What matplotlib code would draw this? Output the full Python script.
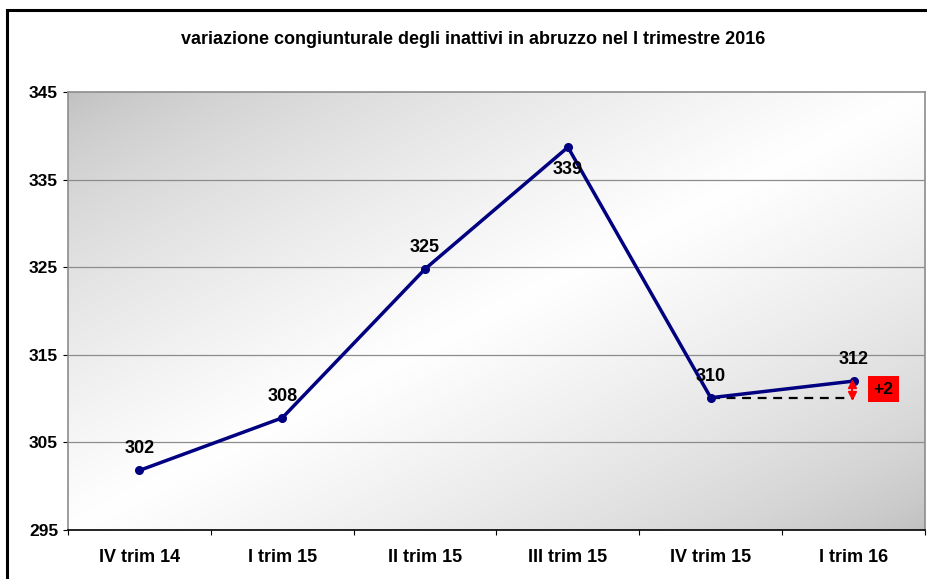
import matplotlib
matplotlib.use("Agg")
import matplotlib.pyplot as plt
import numpy as np
from matplotlib.patches import Rectangle

plt.rcParams['font.family'] = ['Liberation Sans', 'DejaVu Sans']

categories = ["IV trim 14", "I trim 15", "II trim 15", "III trim 15", "IV trim 15", "I trim 16"]
values = [301.8, 307.8, 324.8, 338.7, 310.1, 312.0]
labels = ["302", "308", "325", "339", "310", "312"]
yticks = [295, 305, 315, 325, 335, 345]
delta_label = "+2"

fig = plt.figure(figsize=(9.27, 5.79), dpi=100)
fig.patch.set_facecolor("white")

# outer frame
fig.patches.append(Rectangle((7/927, -0.1), 1.2, (579-10)/579 + 0.1, transform=fig.transFigure,
                             fill=False, edgecolor="black", linewidth=2.2, zorder=0))

ax = fig.add_axes([68/927, 49/579, 857/927, 438/579])
x = np.arange(len(categories))
ax.set_xlim(-0.5, len(categories) - 0.5)
ax.set_ylim(295, 345)

# gradient background
nx, ny = 400, 250
gx, gy = np.meshgrid(np.linspace(0, 1, nx), np.linspace(0, 1, ny))
t = (gx + gy) / 2.0  # 0 top-left, 1 bottom-right (image origin upper)
v = 1 - np.abs(t - 0.5) * 2
v = np.clip(v, 0, 1) ** 0.7
g = 0.75 + 0.25 * v
img = np.dstack([g, g, g])
ax.imshow(img, extent=[-0.5, len(categories) - 0.5, 295, 345], aspect="auto",
          origin="upper", zorder=0, interpolation="bilinear")

for yv in yticks[1:-1]:
    ax.axhline(yv, color="#8c8c8c", linewidth=0.9, zorder=1)

ax.plot(x, values, color="#000080", linewidth=2.5, marker="o", markersize=5.5, zorder=3)

offsets = [1.5, 1.5, 1.5, -1.6, 1.5, 1.5]
for xi, v_, lab, off in zip(x, values, labels, offsets):
    ax.text(xi, v_ + off, lab, ha="center",
            va="bottom" if off > 0 else "top", fontsize=13, fontweight="bold", zorder=4)

# dashed reference line and delta arrow
ax.plot([x[4], x[5]], [values[4], values[4]], color="black", linestyle=(0, (4, 3)),
        linewidth=1.6, zorder=2)
xa = x[5] - 0.01
ax.plot([xa, xa], [values[4] + 0.3, values[5] - 0.3], color="red", linewidth=1.4, zorder=4)
ax.plot([xa], [values[4] + 0.35], marker="v", color="red", markersize=5.5, linestyle="none", zorder=4)
ax.plot([xa], [values[5] - 0.35], marker="^", color="red", markersize=5.5, linestyle="none", zorder=4)
ax.text(x[5] + 0.21, (values[4] + values[5]) / 2, delta_label, ha="center", va="center",
        fontsize=12.5, fontweight="bold", color="black", zorder=5,
        bbox=dict(boxstyle="square,pad=0.32", facecolor="red", edgecolor="none"))

ax.set_yticks(yticks)
ax.set_yticklabels([str(t_) for t_ in yticks], fontsize=12.5, fontweight="bold")
ax.set_xticks(np.arange(len(categories) + 1) - 0.5, minor=False)
ax.set_xticklabels([])
ax.set_xticks(x, minor=True)
ax.set_xticklabels(categories, minor=True, fontsize=13, fontweight="bold")
ax.tick_params(axis="x", which="major", length=3.5, color="black", direction="out")
ax.tick_params(axis="x", which="minor", length=0, pad=14)
ax.tick_params(axis="y", length=3.6, color="black", pad=3.5)

for s in ["top", "right", "left"]:
    ax.spines[s].set_color("#8c8c8c")
    ax.spines[s].set_linewidth(1.2)
ax.spines["bottom"].set_color("black")
ax.spines["bottom"].set_linewidth(1.2)

fig.text(473/927, 1 - 40/579, "variazione congiunturale degli inattivi in abruzzo nel I trimestre 2016",
         ha="center", va="center", fontsize=13, fontweight="bold")

fig.savefig("out.png", dpi=100)
